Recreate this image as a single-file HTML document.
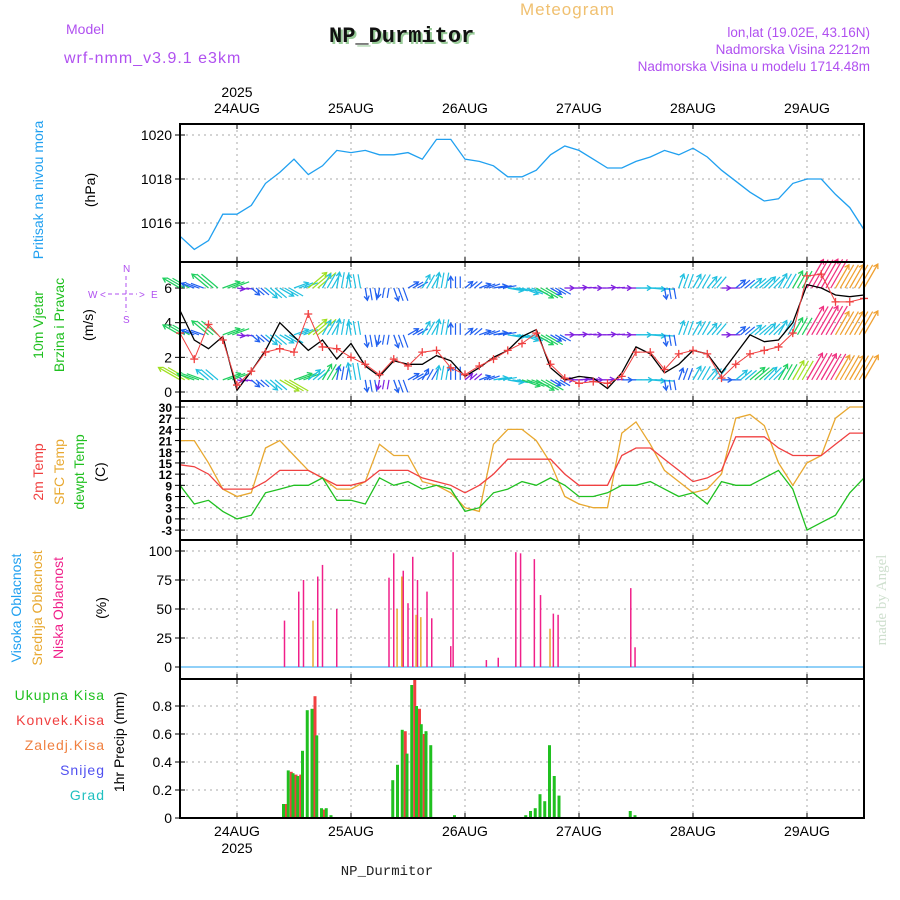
<!DOCTYPE html>
<html><head><meta charset="utf-8"><style>
body{margin:0;background:#fff;}
svg{display:block;font-family:"Liberation Sans",sans-serif;}
</style></head><body>
<svg id="chart" width="900" height="900" viewBox="0 0 900 900">
<text x="520" y="15" font-size="17" fill="#f0c070" letter-spacing="1">Meteogram</text>
<text x="66" y="34" font-size="14" fill="#b050f0">Model</text>
<text x="64" y="63" font-size="16" fill="#b050f0" letter-spacing="1">wrf-nmm_v3.9.1 e3km</text>
<text x="331" y="44" font-size="22" font-weight="bold" fill="#9c9" font-family="Liberation Mono,monospace">NP_Durmitor</text>
<text x="329" y="42" font-size="22" font-weight="bold" fill="#111" font-family="Liberation Mono,monospace">NP_Durmitor</text>
<text x="870" y="37" font-size="13.5" fill="#b050f0" text-anchor="end">lon,lat (19.02E, 43.16N)</text>
<text x="870" y="54" font-size="13.5" fill="#b050f0" text-anchor="end">Nadmorska Visina 2212m</text>
<text x="870" y="71" font-size="13.5" fill="#b050f0" text-anchor="end">Nadmorska Visina u modelu 1714.48m</text>
<text x="387" y="875" font-size="14" fill="#222" text-anchor="middle" font-family="Liberation Mono,monospace">NP_Durmitor</text>
<text transform="translate(886,600) rotate(-90)" font-size="15" fill="#cfe0cf" text-anchor="middle" font-family="Liberation Serif,serif">made by Angel</text>

<g font-size="14">
<text transform="translate(43,190) rotate(-90)" fill="#20a0f0" text-anchor="middle">Pritisak na nivou mora</text>
<text transform="translate(95,190) rotate(-90)" fill="#000" text-anchor="middle">(hPa)</text>
<text transform="translate(43,325) rotate(-90)" fill="#20c020" text-anchor="middle">10m Vjetar</text>
<text transform="translate(64,325) rotate(-90)" fill="#20c020" text-anchor="middle">Brzina i Pravac</text>
<text transform="translate(93,325) rotate(-90)" fill="#000" text-anchor="middle">(m/s)</text>
<text transform="translate(43,472) rotate(-90)" fill="#f04040" text-anchor="middle">2m Temp</text>
<text transform="translate(64,472) rotate(-90)" fill="#e8a830" text-anchor="middle">SFC Temp</text>
<text transform="translate(84,472) rotate(-90)" fill="#20c020" text-anchor="middle">dewpt Temp</text>
<text transform="translate(105,472) rotate(-90)" fill="#000" text-anchor="middle">(C)</text>
<text transform="translate(21,608) rotate(-90)" fill="#20a0f0" text-anchor="middle">Visoka Oblacnost</text>
<text transform="translate(42,608) rotate(-90)" fill="#e8a830" text-anchor="middle">Srednja Oblacnost</text>
<text transform="translate(63,608) rotate(-90)" fill="#f0208a" text-anchor="middle">Niska Oblacnost</text>
<text transform="translate(106,608) rotate(-90)" fill="#000" text-anchor="middle">(%)</text>
<text x="105" y="700" fill="#20c020" text-anchor="end" letter-spacing="1">Ukupna  Kisa</text>
<text x="105" y="725" fill="#f04040" text-anchor="end" letter-spacing="1">Konvek.Kisa</text>
<text x="105" y="750" fill="#f08040" text-anchor="end" letter-spacing="1">Zaledj.Kisa</text>
<text x="105" y="775" fill="#5050f0" text-anchor="end" letter-spacing="1">Snijeg</text>
<text x="105" y="800" fill="#20c0c0" text-anchor="end" letter-spacing="1">Grad</text>
<text transform="translate(124,742) rotate(-90)" fill="#000" text-anchor="middle">1hr Precip (mm)</text>
</g>
<g fill="#b050f0" font-size="10">
<text x="88" y="298">W</text><text x="151" y="298">E</text>
<text x="123" y="272">N</text><text x="123" y="323">S</text>
<text x="100" y="298">&lt;</text><text x="139" y="298">&gt;</text>
<line x1="108" y1="294" x2="137" y2="294" stroke="#b050f0" stroke-dasharray="4,3"/>
<line x1="126" y1="276" x2="126" y2="312" stroke="#b050f0" stroke-dasharray="4,3"/>
</g>
<g id="plots"></g>
</svg>
<script>
// ---- data (3-hourly from 23AUG 12Z, 49 points) ----
const dayLabels = ["24AUG","25AUG","26AUG","27AUG","28AUG","29AUG"];
const pressure = [1015.4,1014.8,1015.2,1016.4,1016.4,1016.8,1017.8,1018.3,1018.9,1018.2,1018.6,1019.3,1019.2,1019.3,1019.1,1019.1,1019.2,1018.9,1019.8,1019.8,1018.9,1018.8,1018.6,1018.1,1018.1,1018.4,1019.1,1019.5,1019.3,1018.9,1018.5,1018.5,1018.8,1019.0,1019.3,1019.1,1019.4,1019.0,1018.4,1017.9,1017.4,1017.0,1017.1,1017.8,1018.0,1018.0,1017.3,1016.7,1015.7];
const pressureTicks = [1016,1018,1020];
const windSpeed = [4.7,3.0,2.5,3.2,0.1,1.2,2.4,4.0,3.2,2.4,3.0,1.9,2.8,1.5,0.9,1.8,1.6,1.6,2.1,1.8,0.9,1.4,2.0,2.4,3.2,3.6,1.4,0.7,0.9,0.8,0.2,1.1,2.6,2.2,1.1,1.6,2.4,2.2,1.1,2.2,3.3,2.9,3.0,4.0,6.2,6.0,5.6,5.5,5.6];
const windGust = [3.4,1.9,3.9,3.0,0.4,1.2,2.3,2.5,2.3,4.5,2.6,2.5,2.0,1.6,1.0,1.9,1.5,2.3,2.4,1.4,1.0,1.5,1.9,2.4,2.8,3.4,1.6,0.8,0.5,0.6,0.5,0.9,2.3,2.3,1.3,2.2,2.4,2.2,0.8,1.6,2.2,2.4,2.6,3.4,6.7,6.8,5.2,5.2,5.4];
const windHeading = [150,160,140,20,-10,-40,-40,-30,20,40,60,80,100,-80,-100,-70,30,60,80,90,40,20,10,-10,-20,-30,-30,0,5,0,5,0,0,-5,-80,70,60,50,0,40,40,45,60,60,60,60,60,60,60];
const windTicks = [0,2,4,6];
const temp2m = [14.5,14,12,8,8,8,10,13,13,13,11,9,9,10,13,13,13,11,10,9,7,9,12,16,16,16,16,12,9,9,9,17,19,19,16,13,10,11,13,22,22,22,19,17,17,17,20,23,23];
const tempSfc = [21,21,15,8,6,7,19,21,17,13,11,8,8,10,20,17,17,10,9,7,3,2,20,24,24,21,15,6,4,3,3,23,26,20,13,10,7,8,12,27,28,25,15,9,15,17,27,30,30];
const dewpt = [9,4,5,2,0,1,7,8,9,9,11,5,5,4,11,9,10,8,9,8,2,3,7,8,10,9,11,9,6,6,7,9,9,10,8,6,7,4,10,9,9,11,13,8,-3,-1,1,7,11];
const tempTicks = [-3,0,3,6,9,12,15,18,21,24,27,30];
// cloud bars (hour index from 23AUG 12Z)
const lowCloudHours = [22,25,26,29,30,33,44,45,47,48,49,50,52,53,57,57.5,64.5,67,70.7,71.7,74.6,75.9,78.6,79.6,94.9,95.8];
const lowCloudVals = [40,65,75,78,88,50,77,98,83,55,95,75,65,42,18,99,6,8,99,98,93,62,46,45,68,17];
const midCloudHours = [28,45.7,46.7,49.7,50.7,77.9];
const midCloudVals = [40,50,78,45,43,33];
const cloudTicks = [0,25,50,75,100];
// hourly precipitation
const precipHours = [22,23,24,25,26,27,28,29,30,31,32,45,46,47,48,49,50,51,52,53,58,73,74,75,76,77,78,79,80,95,96];
const precipTotal = [0.10,0.34,0.32,0.30,0.48,0.77,0.78,0.59,0.07,0.07,0.02,0.27,0.38,0.63,0.46,0.95,0.80,0.67,0.62,0.52,0.02,0.02,0.05,0.07,0.17,0.12,0.52,0.30,0.16,0.05,0.02];
const precipConv = [0.10,0.33,0.31,0.31,0,0,0.87,0,0.06,0,0,0,0,0.62,0,0.99,0.78,0.60,0,0,0,0,0,0,0,0,0,0,0,0,0];
const precipTicks = [0,0.2,0.4,0.6,0.8];

// ---- axes ----
const X0=180, X1=864, HOURS=144;
const xh = h => X0 + h*(X1-X0)/HOURS;
const xi = i => xh(i*3);
const dayX = k => xh(12+k*24);
const panels = {
 p:{top:124,bot:262,y:v=>223-(v-1016)*22},
 w:{top:262,bot:401,y:v=>392-v*17.33},
 t:{top:401,bot:540,y:v=>407+(30-v)*3.73},
 c:{top:540,bot:679,y:v=>667-v*1.16},
 r:{top:679,bot:818,y:v=>818-v*140}
};
const NS="http://www.w3.org/2000/svg";
const root=document.getElementById('plots');
function mk(tag,attrs,parent){const e=document.createElementNS(NS,tag);for(const k in attrs)e.setAttribute(k,attrs[k]);(parent||root).appendChild(e);return e;}

function panelFrame(p,ticks,fmt,name){
  const g=mk('g',{});
  
  
  for(let d=0;d<6;d++){const x=dayX(d);
    mk('line',{x1:x,x2:x,y1:p.top,y2:p.bot,stroke:'#aaa','stroke-dasharray':'2,4'},g);
    mk('line',{x1:x,x2:x,y1:p.top,y2:p.top+5,stroke:'#000'},g);
    mk('line',{x1:x,x2:x,y1:p.bot,y2:p.bot-5,stroke:'#000'},g);}
  ticks.forEach(v=>{const y=p.y(v);
    mk('line',{x1:X0,x2:X1,y1:y,y2:y,stroke:'#aaa','stroke-dasharray':'2,4'},g);
    mk('line',{x1:X0-5,x2:X0+5,y1:y,y2:y,stroke:'#000'},g);
    const t=mk('text',{x:X0-8,y:y+5,'text-anchor':'end','font-size':ticks.length>6?12:14,'font-weight':ticks.length>6?'bold':'normal',fill:'#000'},g);
    t.textContent=fmt(v);
    
    });
  return g;
}
panelFrame(panels.p,pressureTicks,v=>v,'pressure');
panelFrame(panels.w,windTicks,v=>v,'wind');
panelFrame(panels.t,tempTicks,v=>v,'temperature');
panelFrame(panels.c,cloudTicks,v=>v,'cloud');
panelFrame(panels.r,precipTicks,v=>v===0?'0':v.toFixed(1),'precip');

function line(arr,p,color,name,w){
  const pts=arr.map((v,i)=>xi(i).toFixed(1)+','+p.y(v).toFixed(1)).join(' ');
  const e=mk('polyline',{points:pts,fill:'none',stroke:color,'stroke-width':w||1.3});
  
  
}
line(pressure,panels.p,'#20a0f0','pressure-line');

function spdColor(s){const c=['#8020e0','#2060f0','#20c0e0','#20d060','#a0e020','#f0a030','#f03080'];return c[Math.min(6,Math.floor(s))];}
function windRow(base,spd,name){
  const g=mk('g',{});
  
  
  spd.forEach((s,i)=>{
    const x=xi(i),y=panels.w.y(base);const a=windHeading[i]*Math.PI/180;const L=6+s*4;
    const x2=x+Math.cos(a)*L,y2=y-Math.sin(a)*L;const c=spdColor(s);
    const l=mk('line',{x1:x,y1:y,x2:x2,y2:y2,stroke:c,'stroke-width':1.3},g);
    
    
    const h1=a+2.6,h2=a-2.6;
    mk('polyline',{points:`${x2+Math.cos(h1)*5},${y2-Math.sin(h1)*5} ${x2},${y2} ${x2+Math.cos(h2)*5},${y2-Math.sin(h2)*5}`,fill:'none',stroke:c,'stroke-width':1.3},g);
    if(i<48){for(const f of [1/3,2/3]){const xm=x+(xi(i+1)-x)*f;const l2=mk('line',{x1:xm,y1:y,x2:xm+Math.cos(a)*L,y2:y-Math.sin(a)*L,stroke:c,'stroke-width':1.2},g);
      
      }}
  });
}
windRow(6.0,windGust,'wind-arrows-top');
windRow(3.3,windGust,'wind-arrows-middle');
windRow(0.7,windSpeed,'wind-arrows-bottom');
line(windSpeed,panels.w,'#000','wind-speed-line');
line(windGust,panels.w,'#f04040','wind-gust-line',1);
windGust.forEach((v,i)=>{const x=xi(i),y=panels.w.y(v);
  const c=mk('path',{d:`M${x-4},${y}H${x+4}M${x},${y-4}V${y+4}`,stroke:'#f04040','stroke-width':1.3});
  
  });

line(tempSfc,panels.t,'#e8a830','sfc-temp-line');
line(temp2m,panels.t,'#f04040','temp-2m-line');
line(dewpt,panels.t,'#20c020','dewpoint-line');

mk('line',{x1:X0,x2:X1,y1:panels.c.y(0),y2:panels.c.y(0),stroke:'#20a0f0','stroke-width':1});
lowCloudHours.forEach((h,i)=>{const x=xh(h);
  const b=mk('line',{x1:x,x2:x,y1:panels.c.y(0),y2:panels.c.y(lowCloudVals[i]),stroke:'#f0208a','stroke-width':1.5});
  
  });
midCloudHours.forEach((h,i)=>{const x=xh(h);
  const b=mk('line',{x1:x,x2:x,y1:panels.c.y(0),y2:panels.c.y(midCloudVals[i]),stroke:'#e8a830','stroke-width':1.5});
  
  });

precipHours.forEach((h,i)=>{const x=xh(h);const y0=panels.r.y(0);
  if(precipTotal[i]>0){const b=mk('rect',{x:x-2.5,y:panels.r.y(precipTotal[i]),width:3,height:y0-panels.r.y(precipTotal[i]),fill:'#20c020'});
    
    }
  if(precipConv[i]>0){const b=mk('rect',{x:x+0.5,y:panels.r.y(precipConv[i]),width:3,height:y0-panels.r.y(precipConv[i]),fill:'#f04040'});
    
    }
});

[panels.p,panels.w,panels.t,panels.c,panels.r].forEach(p=>{
  mk('rect',{x:X0,y:p.top,width:X1-X0,height:p.bot-p.top,fill:'none',stroke:'#000','stroke-width':2});
});
dayLabels.forEach((d,k)=>{const x=dayX(k);
  const t=mk('text',{x:x,y:113,'text-anchor':'middle','font-size':14,fill:'#000'});t.textContent=d;
  
  
  const b=mk('text',{x:x,y:836,'text-anchor':'middle','font-size':14,fill:'#000'});b.textContent=d;
  
  
});
const y1=mk('text',{x:dayX(0),y:97,'text-anchor':'middle','font-size':14});y1.textContent='2025';


const y2=mk('text',{x:dayX(0),y:853,'text-anchor':'middle','font-size':14});y2.textContent='2025';


</script>
</body></html>
